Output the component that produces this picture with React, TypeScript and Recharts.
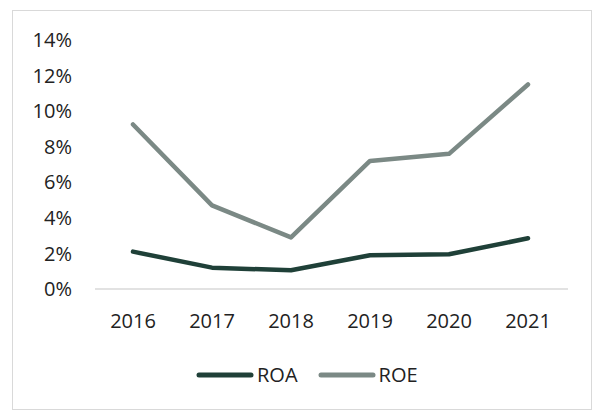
import React from "react";
import { LineChart, Line, XAxis, YAxis } from "recharts";

const years = ["2016", "2017", "2018", "2019", "2020", "2021"];
const roa = [2.1, 1.2, 1.05, 1.9, 1.95, 2.85];
const roe = [9.25, 4.7, 2.9, 7.2, 7.6, 11.5];
const yTicks = [0, 2, 4, 6, 8, 10, 12, 14];
const seriesNames = ["ROA", "ROE"];
const seriesColors = ["#1f4038", "#7b8985"];

const data = years.map((y, i) => ({ year: y, ROA: roa[i], ROE: roe[i] }));

const font = "'Open Sans', sans-serif";

export default function App() {
  return (
    <div style={{ position: "absolute", left: 0, top: 0, width: 593, height: 410, background: "#fff", fontFamily: font }}>
      <div
        style={{
          position: "absolute",
          left: 12,
          top: 10,
          width: 578,
          height: 398,
          border: "1.5px solid #d9d9d9",
        }}
      />
      <div style={{ position: "absolute", left: 0, top: 0 }}>
        <LineChart width={593} height={410} data={data} margin={{ top: 40, right: 25, left: 0, bottom: 91 }}>
          <XAxis
            dataKey="year"
            height={30}
            padding={{ left: 38, right: 40 }}
            tickLine={false}
            tickMargin={19}
            axisLine={{ stroke: "#d9d9d9", strokeWidth: 1.5 }}
            tick={{ fill: "#222", fontSize: 20, fontFamily: font }}
          />
          <YAxis
            width={95}
            domain={[0, 14]}
            ticks={yTicks}
            tickFormatter={(v: number) => `${v}%`}
            tickLine={false}
            axisLine={false}
            tickMargin={17}
            tick={{ fill: "#222", fontSize: 20, fontFamily: font }}
          />
          {seriesNames.map((n, i) => (
            <Line
              key={n}
              type="linear"
              dataKey={n}
              stroke={seriesColors[i]}
              strokeWidth={4.5}
              strokeLinecap="round"
              strokeLinejoin="round"
              dot={false}
              activeDot={false}
              isAnimationActive={false}
            />
          ))}
        </LineChart>
      </div>
      <div style={{ position: "absolute", left: 196, top: 361, display: "flex", alignItems: "center", height: 28 }}>
        {seriesNames.map((n, i) => (
          <div key={n} style={{ display: "flex", alignItems: "center", marginRight: i === 0 ? 20 : 0 }}>
            <svg width={58} height={10} style={{ display: "block" }}>
              <line x1={3} y1={5} x2={55} y2={5} stroke={seriesColors[i]} strokeWidth={5} strokeLinecap="round" />
            </svg>
            <span style={{ fontSize: 20, color: "#222", marginLeft: 3, lineHeight: "28px" }}>{n}</span>
          </div>
        ))}
      </div>
    </div>
  );
}
